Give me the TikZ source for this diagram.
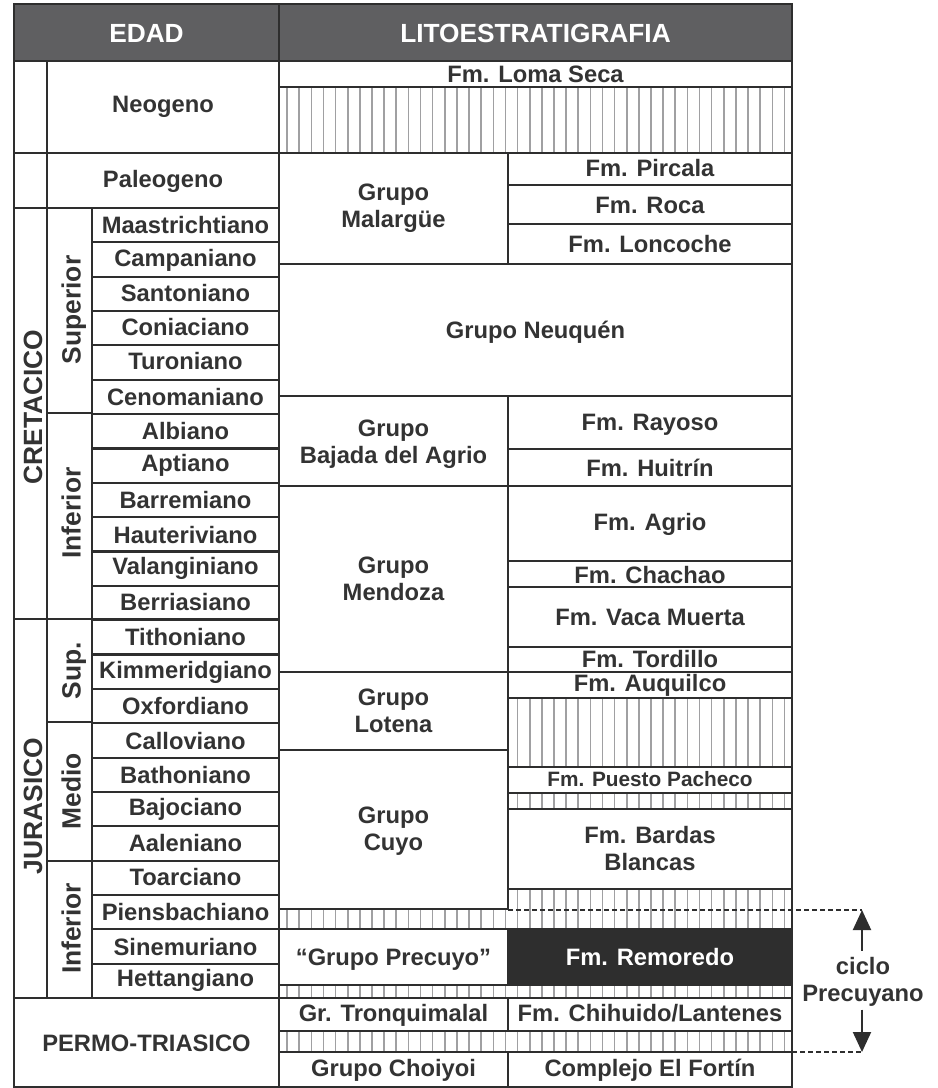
\documentclass[tikz,border=0pt]{standalone}
\usepackage{fontspec}
\setmainfont{Liberation Sans}
\usetikzlibrary{arrows.meta}
\definecolor{ink}{HTML}{2E2E2E}
\definecolor{txt}{HTML}{333333}
\definecolor{headfill}{HTML}{5F5F61}
\definecolor{hatchgray}{HTML}{A0A0A2}
\def\bodyfont{\bfseries\fontsize{17.8}{20.1}\selectfont}
\def\smallfont{\bfseries\fontsize{15.6}{18}\selectfont}
\def\headfont{\bfseries\fontsize{19.7}{22}\selectfont}
\def\sidefont{\bfseries\fontsize{19.8}{22}\selectfont}
\def\hatch(#1)(#2){\begin{scope}\clip (#1) rectangle (#2);
  \foreach \hx in {0,...,41} \draw[hatchgray, line width=1.2pt] ({287.1+12.13*\hx},0) -- ({287.1+12.13*\hx},1100);
  \end{scope}}

\begin{document}
\begin{tikzpicture}[x=0.75pt, y=-0.75pt,
    rule/.style={draw=ink, line width=1.6pt},
    dashrule/.style={draw=ink, line width=1.5pt, dash pattern=on 3.75pt off 2.25pt},
    lbl/.style={text=txt, font=\bodyfont, align=center, inner sep=0pt, anchor=base},
    hdr/.style={text=white, font=\headfont, inner sep=0pt, anchor=base},
    side/.style={text=txt, font=\sidefont, inner sep=0pt, anchor=base, rotate=90},
    cyclearrow/.style={draw=ink, line width=1.5pt, -{Triangle[length=15pt, width=13.5pt]}}]
	%%%%% START %%%%%
	\useasboundingbox (0,0) rectangle (938,1088);
	\fill[white] (0,0) rectangle (938,1088);
	
	% header
	\fill[headfill] (14,4) rectangle (792,61);
	\node[hdr] (edad) at (146.5,42.5) {EDAD};
	\node[hdr] (lito) at (535.5,42.5) {LITOESTRATIGRAFIA};
	
	% hiatus
	\hatch(279,87)(792,153)
	\hatch(508,698)(792,767)
	\hatch(508,793)(792,809)
	\hatch(508,889)(792,929)
	\hatch(279,909)(508,929)
	\hatch(279,985)(792,998)
	\hatch(279,1031)(792,1052)
	\fill[ink] (508,929) rectangle (792,985);
	
	% edad grid
	\draw[rule] (14,4) rectangle (792,1087);
	\draw[rule] (279,4) -- (279,1087);
	\draw[rule] (14,61) -- (792,61);
	\draw[rule] (47,61) -- (47,998);
	\draw[rule] (92,208) -- (92,998);
	\foreach \y in {153,208,619,998} \draw[rule] (14,\y) -- (279,\y);
	\foreach \y in {413,722,861} \draw[rule] (47,\y) -- (92,\y);
	\foreach \k in {1,...,22} \draw[rule] (92,{208+34.35*\k}) -- (279,{208+34.35*\k});
	
	% litoestratigrafia grid
	\foreach \y in {87,153,264,396,486,672,929,985,998,1031,1052} \draw[rule] (279,\y) -- (792,\y);
	\foreach \y in {185,224,449,561,587,647,698,767,793,809,889} \draw[rule] (508,\y) -- (792,\y);
	\foreach \y in {750,909} \draw[rule] (279,\y) -- (508,\y);
	\foreach \ya/\yb in {153/264,396/909,929/985,998/1031,1052/1087} \draw[rule] (508,\ya) -- (508,\yb);
	
	% edad
	\node[lbl] (neogeno) at (163,113) {Neogeno};
	\node[lbl] (paleogeno) at (163,187.5) {Paleogeno};
	\foreach \name/\yb [count=\i] in {Maastrichtiano/233.3, Campaniano/266.7, Santoniano/301, Coniaciano/335,
	    Turoniano/369.5, Cenomaniano/405, Albiano/439, Aptiano/471.7, Barremiano/508, Hauteriviano/543,
	    Valanginiano/574, Berriasiano/610.7, Tithoniano/645.7, Kimmeridgiano/678.3, Oxfordiano/714,
	    Calloviano/749.3, Bathoniano/783, Bajociano/815, Aaleniano/851.7, Toarciano/885,
	    Piensbachiano/920, Sinemuriano/955, Hettangiano/986.7}
	  \node[lbl] (piso\i) at (185.5,\yb) {\name};
	\node[side] (cretacico) at (42,407) {CRETACICO};
	\node[side] (jurasico) at (42,806) {JURASICO};
	\node[side] (superior) at (80.5,310) {Superior};
	\node[side] (infcret) at (80.5,513) {Inferior};
	\node[side] (supjur) at (80.5,671) {Sup.};
	\node[side] (medio) at (80.5,791) {Medio};
	\node[side] (infjur) at (80.5,928.5) {Inferior};
	\node[lbl] (permo) at (146.5,1051.7) {PERMO-TRIASICO};
	
	% grupos (two-line labels sit on their last baseline)
	\node[lbl] (lomaseca) at (535.5,83) {Fm. Loma Seca};
	\node[lbl] (malargue) at (393.5,227.3) {Grupo\\Malargüe};
	\node[lbl] (neuquen) at (535.5,338) {Grupo Neuquén};
	\node[lbl] (bajada) at (393.5,463.3) {Grupo\\Bajada del Agrio};
	\node[lbl] (mendoza) at (393.5,600.7) {Grupo\\Mendoza};
	\node[lbl] (lotena) at (393.5,732.7) {Grupo\\Lotena};
	\node[lbl] (cuyo) at (393.5,850) {Grupo\\Cuyo};
	\node[lbl] (precuyo) at (393.5,965) {“Grupo Precuyo”};
	\node[lbl] (tronquimalal) at (393.5,1021.7) {Gr. Tronquimalal};
	\node[lbl] (choiyoi) at (393.5,1076.7) {Grupo Choiyoi};
	
	% formaciones
	\node[lbl] (pircala) at (650,176.7) {Fm. Pircala};
	\node[lbl] (roca) at (650,213) {Fm. Roca};
	\node[lbl] (loncoche) at (650,252) {Fm. Loncoche};
	\node[lbl] (rayoso) at (650,430) {Fm. Rayoso};
	\node[lbl] (huitrin) at (650,476.5) {Fm. Huitrín};
	\node[lbl] (agrio) at (650,530) {Fm. Agrio};
	\node[lbl] (chachao) at (650,583) {Fm. Chachao};
	\node[lbl] (vacamuerta) at (650,625) {Fm. Vaca Muerta};
	\node[lbl] (tordillo) at (650,667) {Fm. Tordillo};
	\node[lbl] (auquilco) at (650,691.7) {Fm. Auquilco};
	\node[lbl, font=\smallfont] (pacheco) at (650,786.7) {Fm. Puesto Pacheco};
	\node[lbl] (bardas) at (650,870.7) {Fm. Bardas\\Blancas};
	\node[lbl, text=white] (remoredo) at (650,965) {Fm. Remoredo};
	\node[lbl] (chihuido) at (650,1021.7) {Fm. Chihuido/Lantenes};
	\node[lbl] (fortin) at (650,1076.7) {Complejo El Fortín};
	
	% ciclo Precuyano
	\coordinate (ctop) at (862,910);
	\coordinate (cbot) at (862,1052);
	\draw[dashrule] (508,910) -- (ctop);
	\draw[dashrule] (792,1052) -- (cbot);
	\node[lbl] (ciclo) at (863,1001.7) {ciclo\\Precuyano};
	\draw[cyclearrow] ([yshift=5pt]ciclo.north -| ctop) -- (ctop);
	\draw[cyclearrow] ([yshift=-2pt]ciclo.south -| cbot) -- (cbot);
	%%%%% END %%%%%
\end{tikzpicture}
\end{document}
